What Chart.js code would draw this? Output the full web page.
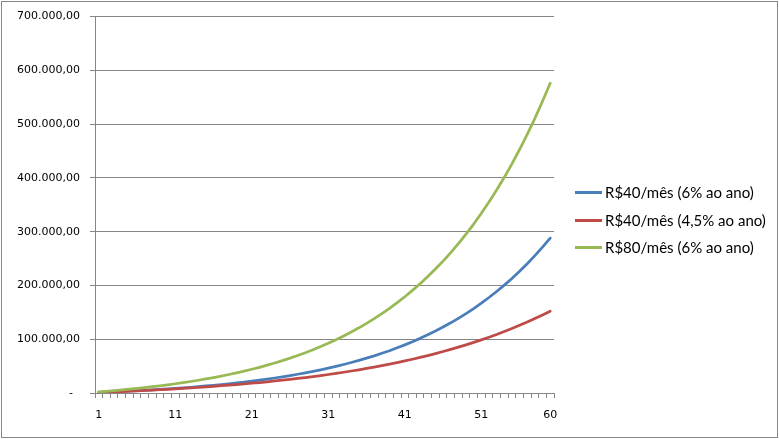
<!DOCTYPE html>
<html>
<head>
<meta charset="utf-8">
<script src="https://cdn.jsdelivr.net/npm/chart.js@4.4.1/dist/chart.umd.min.js"></script>
<style>
  html, body { margin: 0; padding: 0; background: #fff; }
  #wrap { width: 779px; height: 439px; position: relative; }
</style>
</head>
<body>
<div id="wrap"><canvas id="myChart" width="779" height="439"></canvas></div>
<script>
// Dati
const months = [1,2,3,4,5,6,7,8,9,10,11,12,13,14,15,16,17,18,19,20,
  21,22,23,24,25,26,27,28,29,30,31,32,33,34,35,36,37,38,39,40,
  41,42,43,44,45,46,47,48,49,50,51,52,53,54,55,56,57,58,59,60];

const xTickLabels = ['1', '11', '21', '31', '41', '51', '60'];

const seriesNames = ['R$40/mês (6% ao ano)', 'R$40/mês (4,5% ao ano)', 'R$80/mês (6% ao ano)'];

const blue40 = [1000,1600,2200,2900,3500,4300,5000,5800,6700,7600,8600,9600,10700,11800,13100,
  14400,15700,17200,18700,20300,22100,23900,25900,27900,30100,32400,34900,37500,40200,43100,
  46200,49500,53000,56700,60600,64800,69100,73800,78700,84000,89500,95400,101600,108200,115200,
  122700,130500,138900,147700,157100,167000,177600,188700,200600,213100,226400,240500,255400,271300,288000];

const red40 = [1000,1600,2100,2700,3400,4000,4700,5400,6200,6900,7800,8600,9500,10400,11400,
  12400,13500,14600,15700,16900,18200,19500,20900,22400,23900,25400,27100,28800,30600,32500,
  34400,36500,38600,40900,43200,45700,48200,50900,53700,56600,59700,62800,66200,69600,73300,
  77100,81100,85200,89500,94100,98800,103800,108900,114300,120000,125900,132000,138500,145200,152200];

const green80 = [2100,3200,4500,5700,7100,8500,10100,11700,13400,15200,17200,19200,21400,23700,26100,
  28700,31500,34400,37400,40700,44200,47800,51700,55800,60200,64800,69700,74900,80500,86300,
  92500,99100,106000,113400,121200,129500,138300,147600,157500,168000,179000,190800,203300,216500,230500,
  245300,261100,277800,295400,314200,334100,355100,377400,401100,426200,452800,481000,510800,542500,576100];

const colors = ['#4a7ebb', '#be4b48', '#98b954'];
const gridColor = '#868686';
const tickFont = { family: 'DejaVu Sans', size: 11 };

// Formato brasiliano: 700.000,00
function formatBR(value) {
    if (value === 0) return '-  ';
    const intPart = Math.round(value).toString().replace(/\B(?=(\d{3})+(?!\d))/g, '.');
    return intPart + ',00';
}

// Legenda disegnata a mano a destra + bordo esterno
const customLegend = {
    id: 'customLegend',
    afterDraw(chart) {
        const c = chart.ctx;
        c.save();
        c.strokeStyle = gridColor;
        c.lineWidth = 1;
        c.strokeRect(1.5, 1.5, 776, 436);
        const ys = [192, 220, 247];
        c.font = '15px Lato';
        c.textBaseline = 'middle';
        c.textAlign = 'left';
        chart.data.datasets.forEach((ds, i) => {
            c.strokeStyle = ds.borderColor;
            c.lineWidth = 3;
            c.lineCap = 'butt';
            c.beginPath();
            c.moveTo(575, ys[i] + 0.5);
            c.lineTo(602, ys[i] + 0.5);
            c.stroke();
            c.fillStyle = '#000';
            c.fillText(ds.label, 605, ys[i] + 1);
        });
        c.restore();
    }
};

const ctx = document.getElementById('myChart');

const chart = new Chart(ctx, {
    type: 'line',
    data: {
        labels: months,
        datasets: [
            { label: seriesNames[0], data: blue40, borderColor: colors[0], order: 3 },
            { label: seriesNames[1], data: red40, borderColor: colors[1], order: 2 },
            { label: seriesNames[2], data: green80, borderColor: colors[2], order: 1 }
        ].map(ds => Object.assign(ds, {
            borderWidth: 2.75,
            pointRadius: 0,
            tension: 0,
            fill: false,
            borderJoinStyle: 'round',
            borderCapStyle: 'round'
        }))
    },
    options: {
        responsive: false,
        animation: false,
        layout: {
            padding: { left: 0, top: 16, right: 225, bottom: 0 }
        },
        plugins: {
            legend: { display: false },
            tooltip: { enabled: false }
        },
        scales: {
            x: {
                offset: true,
                grid: {
                    offset: true,
                    drawOnChartArea: false,
                    drawTicks: true,
                    tickLength: 5,
                    color: gridColor
                },
                border: { display: true, color: gridColor },
                ticks: {
                    autoSkip: false,
                    maxRotation: 0,
                    padding: 11,
                    color: '#000',
                    font: tickFont,
                    callback: function (value, index) {
                        const lbl = String(months[index]);
                        return xTickLabels.includes(lbl) ? lbl : '';
                    }
                },
                afterFit: function (scale) { scale.height = 46; }
            },
            y: {
                min: 0,
                max: 700000,
                grid: {
                    color: gridColor,
                    drawTicks: true,
                    tickLength: 5
                },
                border: { display: true, color: gridColor },
                ticks: {
                    stepSize: 100000,
                    padding: 10,
                    color: '#000',
                    font: tickFont,
                    callback: function (value) { return formatBR(value); }
                },
                afterFit: function (scale) { scale.width = 95; }
            }
        }
    },
    plugins: [customLegend]
});
</script>
</body>
</html>
